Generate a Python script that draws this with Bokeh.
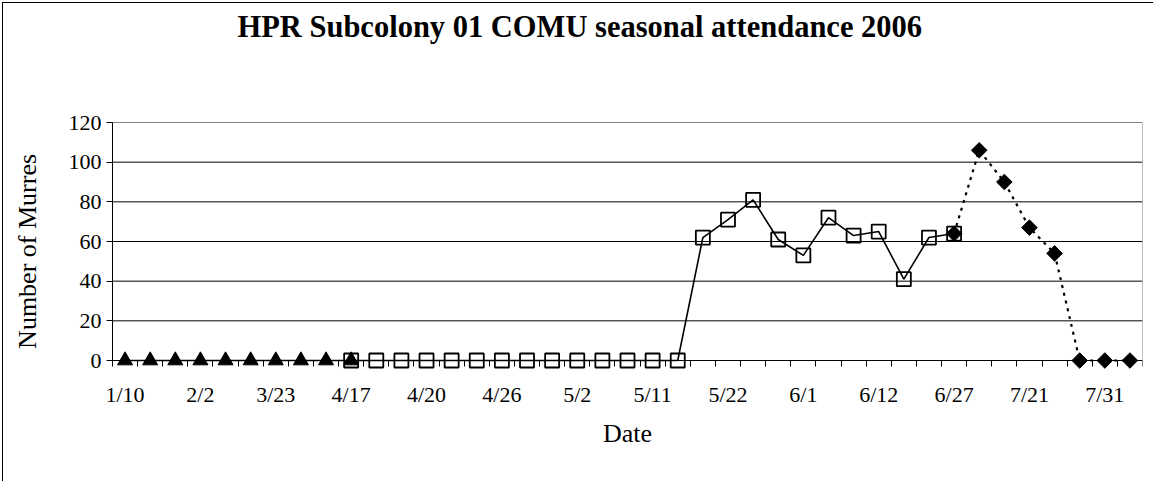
import math
from bokeh.plotting import figure
from bokeh.models import FixedTicker, LinearAxis, Range1d, Label
from bokeh.embed import file_html
from bokeh.resources import INLINE

# ---- data ----
title_text = "HPR Subcolony 01 COMU seasonal attendance 2006"
x_title = "Date"
y_title = "Number of Murres"
tick_labels = ["1/10", "2/2", "3/23", "4/17", "4/20", "4/26", "5/2",
               "5/11", "5/22", "6/1", "6/12", "6/27", "7/21", "7/31"]
n_dates = 41  # number of survey dates (categories)

tri_idx = [0, 1, 2, 3, 4, 5, 6, 7, 8, 9]
tri_val = [0, 0, 0, 0, 0, 0, 0, 0, 0, 0]

sq_idx = [9, 10, 11, 12, 13, 14, 15, 16, 17, 18, 19, 20, 21, 22,
          23, 24, 25, 26, 27, 28, 29, 30, 31, 32, 33]
sq_val = [0, 0, 0, 0, 0, 0, 0, 0, 0, 0, 0, 0, 0, 0,
          62, 71, 81, 61, 53, 72, 63, 65, 41, 62, 64]

dia_idx = [33, 34, 35, 36, 37, 38, 39, 40]
dia_val = [64, 106, 90, 67, 54, 0, 0, 0]

y_ticks = [0, 20, 40, 60, 80, 100, 120]

FONT = "Liberation Serif"
X0, X1 = -0.5, n_dates - 0.5          # plot-area extent (categories)
Y0, Y1 = y_ticks[0], y_ticks[-1]       # plot-area extent (values)

# the frame covers the whole chart area so axes, labels and title can be
# drawn inside it without being clipped
p = figure(width=1150, height=478, output_backend="svg", toolbar_location=None,
           x_range=Range1d(-4.8388, X1), y_range=Range1d(-60, 180),
           frame_width=1139, frame_height=476,
           min_border_left=0, min_border_top=0, min_border_right=11,
           min_border_bottom=2)
p.styles = {"border-left": "1px solid black", "border-top": "1px solid black",
            "margin-left": "2px", "margin-top": "2px"}
p.outline_line_color = None
p.background_fill_color = "white"
p.border_fill_color = "white"
p.xgrid.visible = False
p.ygrid.visible = False

# gridlines restricted to the plot area
grid_y = y_ticks[1:-1]
p.segment(x0=[X0] * len(grid_y), y0=grid_y, x1=[X1] * len(grid_y), y1=grid_y,
          line_color="black", line_width=1)

# y axis at the left edge of the plot area
ya = p.yaxis[0]
ya.fixed_location = X0
ya.ticker = FixedTicker(ticks=y_ticks)
ya.bounds = (Y0, Y1)
ya.major_tick_out = 6
ya.major_tick_in = 0
ya.minor_tick_out = 0
ya.minor_tick_in = 0
ya.axis_line_color = "black"
ya.major_tick_line_color = "black"
ya.major_label_text_font = FONT
ya.major_label_text_font_size = "22px"
ya.major_label_text_color = "black"
ya.major_label_standoff = 5

# x axis at y = 0
xa = p.xaxis[0]
xa.fixed_location = Y0
xa.bounds = (X0, X1)
centers = list(range(0, n_dates - 1, 3))
bounds = [i - 0.5 for i in range(n_dates + 1)]
xa.ticker = FixedTicker(ticks=centers, minor_ticks=bounds)
xa.major_label_overrides = {c: lab for c, lab in zip(centers, tick_labels)}
xa.major_tick_out = 0
xa.major_tick_in = 0
xa.minor_tick_out = 6
xa.minor_tick_in = 0
xa.minor_tick_line_color = "black"
xa.axis_line_color = "black"
xa.major_label_text_font = FONT
xa.major_label_text_font_size = "22px"
xa.major_label_text_color = "black"
xa.major_label_standoff = 15

# gray top and right borders of the plot area
top = LinearAxis(ticker=FixedTicker(ticks=[]), axis_line_color="#808080",
                 major_tick_line_color=None, minor_tick_line_color=None,
                 fixed_location=Y1, bounds=(X0, X1))
p.add_layout(top, "above")
right = LinearAxis(ticker=FixedTicker(ticks=[]), axis_line_color="#808080",
                   major_tick_line_color=None, minor_tick_line_color=None,
                   fixed_location=X1, bounds=(Y0, Y1))
p.add_layout(right, "right")

# titles
p.add_layout(Label(x=18.1, y=168, text=title_text, text_font=FONT,
                   text_font_size="30.5px", text_font_style="bold",
                   text_color="black", text_align="center",
                   text_baseline="alphabetic"))
p.add_layout(Label(x=(n_dates - 1) / 2, y=-37, text=x_title, text_font=FONT,
                   text_font_size="26px", text_color="black",
                   text_align="center", text_baseline="middle"))
p.add_layout(Label(x=24, x_units="screen", y=55, text=y_title, text_font=FONT,
                   text_font_size="26px", text_color="black", angle=math.pi / 2,
                   text_align="center", text_baseline="middle"))

# series
p.line(sq_idx, sq_val, line_color="black", line_width=1.6)
p.scatter(sq_idx, sq_val, marker="square", size=14, fill_color=None,
          line_color="black", line_width=1.8)
p.line(tri_idx, tri_val, line_color="black", line_width=1.6)
p.scatter(tri_idx, tri_val, marker="triangle", size=15, fill_color="black",
          line_color="black")
p.line(dia_idx, dia_val, line_color="black", line_width=2.2, line_dash="3 5")
p.scatter(dia_idx, dia_val, marker="square", size=11, angle=math.pi / 4,
          fill_color="black", line_color="black")

open("out.html", "w").write(file_html(p, INLINE))
